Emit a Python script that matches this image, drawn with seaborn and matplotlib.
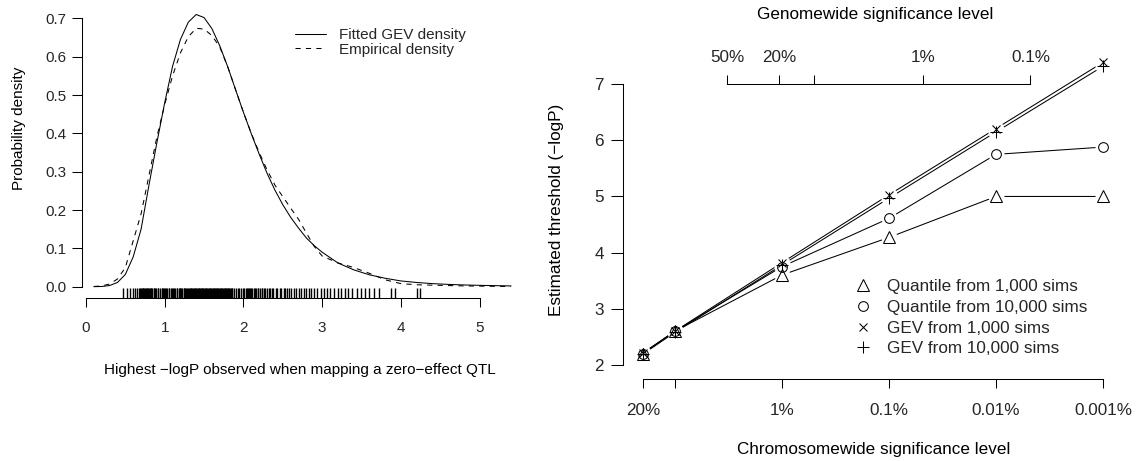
import matplotlib
matplotlib.use("Agg")
import matplotlib.pyplot as plt
from matplotlib.lines import Line2D
import numpy as np
import pandas as pd
import seaborn as sns

# ---------------- left panel data ----------------
dens_x = [0.1, 0.2, 0.3, 0.4, 0.5, 0.6, 0.7, 0.8, 0.9, 1.0, 1.1, 1.2, 1.3, 1.4,
          1.5, 1.6, 1.7, 1.8, 1.9, 2.0, 2.1, 2.2, 2.3, 2.4, 2.5, 2.6, 2.7, 2.8,
          2.9, 3.0, 3.2, 3.4, 3.6, 3.8, 4.0, 4.2, 4.4, 4.6, 4.8, 5.0, 5.2, 5.4]
gev_density = [0.0001, 0.0005, 0.003, 0.011, 0.032, 0.078, 0.150, 0.265, 0.375,
               0.480, 0.575, 0.645, 0.690, 0.710, 0.702, 0.673, 0.628, 0.574,
               0.514, 0.455, 0.399, 0.346, 0.296, 0.252, 0.214, 0.181, 0.153,
               0.127, 0.107, 0.090, 0.062, 0.044, 0.031, 0.022, 0.015, 0.011,
               0.008, 0.006, 0.0045, 0.0035, 0.0027, 0.002]
emp_density = [0.0005, 0.002, 0.007, 0.020, 0.050, 0.120, 0.190, 0.290, 0.390,
               0.475, 0.550, 0.610, 0.652, 0.674, 0.672, 0.655, 0.625, 0.574,
               0.514, 0.455, 0.400, 0.350, 0.305, 0.265, 0.235, 0.205, 0.176,
               0.140, 0.105, 0.080, 0.062, 0.050, 0.035, 0.018, 0.008, 0.005,
               0.004, 0.003, 0.002, 0.0015, 0.001, 0.0005]
rug_values = [0.47, 0.52, 0.56, 0.60, 0.62, 0.65, 0.67, 0.69, 0.70, 0.71, 0.72,
              0.73, 0.74, 0.75, 0.76, 0.77, 0.78, 0.79, 0.80, 0.81, 0.82, 0.83,
              0.84, 0.86, 0.87, 0.88, 0.89, 0.91, 0.92, 0.94, 0.96, 0.97, 0.98,
              0.99, 1.00, 1.02, 1.03, 1.05, 1.06, 1.08, 1.09, 1.10, 1.12, 1.13,
              1.15, 1.16, 1.18, 1.19, 1.20, 1.21, 1.22, 1.24, 1.25, 1.26, 1.27,
              1.28, 1.30, 1.31, 1.32, 1.33, 1.34, 1.35, 1.36, 1.37, 1.38, 1.39,
              1.40, 1.41, 1.42, 1.43, 1.44, 1.45, 1.46, 1.47, 1.48, 1.49, 1.50,
              1.51, 1.52, 1.53, 1.54, 1.55, 1.56, 1.57, 1.58, 1.59, 1.60, 1.61,
              1.62, 1.63, 1.64, 1.65, 1.66, 1.67, 1.68, 1.69, 1.70, 1.71, 1.72,
              1.73, 1.74, 1.75, 1.76, 1.77, 1.78, 1.79, 1.80, 1.81, 1.82, 1.83,
              1.84, 1.85, 1.86, 1.88, 1.90, 1.93, 1.95, 1.97, 2.00, 2.01, 2.03,
              2.04, 2.06, 2.07, 2.08, 2.10, 2.11, 2.13, 2.15, 2.16, 2.18, 2.19,
              2.21, 2.23, 2.24, 2.26, 2.28, 2.30, 2.32, 2.34, 2.36, 2.38, 2.41,
              2.43, 2.46, 2.48, 2.51, 2.53, 2.56, 2.58, 2.61, 2.64, 2.67, 2.70,
              2.73, 2.77, 2.80, 2.83, 2.86, 2.90, 2.94, 2.98, 3.02, 3.06, 3.10,
              3.15, 3.20, 3.24, 3.29, 3.33, 3.38, 3.44, 3.49, 3.55, 3.60, 3.66,
              3.72, 3.88, 3.93, 4.20, 4.24]
left_xticks = [0, 1, 2, 3, 4, 5]
left_yticks = [0.0, 0.1, 0.2, 0.3, 0.4, 0.5, 0.6, 0.7]
left_ytick_labels = ["0.0", "0.1", "0.2", "0.3", "0.4", "0.5", "0.6", "0.7"]
left_legend = ["Fitted GEV density", "Empirical density"]

# ---------------- right panel data ----------------
chrom_levels = [0.2, 0.1, 0.01, 0.001, 0.0001, 0.00001]
chrom_labels = ["20%", "", "1%", "0.1%", "0.01%", "0.001%"]
quant_1k = [2.20, 2.60, 3.60, 4.27, 5.00, 5.00]
quant_10k = [2.20, 2.60, 3.75, 4.61, 5.75, 5.88]
gev_1k = [2.21, 2.60, 3.82, 5.03, 6.21, 7.39]
gev_10k = [2.19, 2.58, 3.78, 4.97, 6.15, 7.32]
series_names = ["Quantile from 1,000 sims", "Quantile from 10,000 sims",
                "GEV from 1,000 sims", "GEV from 10,000 sims"]
genome_levels = [0.5, 0.2, 0.1, 0.01, 0.001]
genome_labels = ["50%", "20%", "", "1%", "0.1%"]
n_chrom = 21
right_yticks = [2, 3, 4, 5, 6, 7]

# ---------------- style ----------------
sns.set_theme(style="white")
plt.rcParams["font.family"] = ["Liberation Sans", "DejaVu Sans"]
plt.rcParams["font.size"] = 11
plt.rcParams["axes.unicode_minus"] = True

W, H = 1145, 461
fig = plt.figure(figsize=(W / 100, H / 100), dpi=100)
FS_L = 11
FS_R = 12.3


def axes_px(left, top, right, bottom):
    return fig.add_axes([left / W, 1 - bottom / H, (right - left) / W, (bottom - top) / H])


def ftext(x, y, s, size, **kw):
    fig.text(x / W, 1 - y / H, s, ha="center", va="center", fontsize=size,
             color="black", **kw)


LW = 0.75
TICKLEN = 6.5

# ---------------- left panel ----------------
ax1 = axes_px(81.7, 3.0, 518.9, 298.3)
ax1.set_xlim(-0.0546, 5.5)
ax1.set_ylim(-0.0303, 0.74)
sns.lineplot(x=dens_x, y=gev_density, ax=ax1, color="black", lw=LW, linestyle="-")
sns.lineplot(x=dens_x, y=emp_density, ax=ax1, color="black", lw=LW, linestyle=(0, (5, 5)))
sns.rugplot(x=rug_values, ax=ax1, height=10 / 295.3, color="black", lw=1.1,
            expand_margins=False)
for s in ["top", "right"]:
    ax1.spines[s].set_visible(False)
for s in ["left", "bottom"]:
    ax1.spines[s].set_color("black")
    ax1.spines[s].set_linewidth(LW)
ax1.spines["left"].set_bounds(0, 0.7)
ax1.spines["bottom"].set_bounds(0, 5)
ax1.set_xticks(left_xticks)
ax1.set_xticklabels([str(v) for v in left_xticks])
ax1.set_yticks(left_yticks)
ax1.set_yticklabels(left_ytick_labels)
ax1.tick_params(axis="x", direction="out", length=TICKLEN, width=LW, color="black",
                pad=9.5, labelsize=FS_L, bottom=True)
ax1.tick_params(axis="y", direction="out", length=7.2, width=LW, color="black",
                pad=3.6, labelsize=FS_L, left=True)
ax1.set_xlabel("")
ax1.set_ylabel("")
handles = [Line2D([], [], color="black", lw=LW, ls="-"),
           Line2D([], [], color="black", lw=LW, ls=(0, (5, 5)))]
ax1.legend(handles, left_legend, loc="upper left",
           bbox_to_anchor=(295 / W, 1 - 28 / H), bbox_transform=fig.transFigure,
           frameon=False, fontsize=FS_L, handlelength=2.0, handletextpad=0.9,
           labelspacing=0.05, borderpad=0, borderaxespad=0)
ftext(19, 128, "Probability density", FS_L, rotation=90)
ftext(300, 370, "Highest \u2212logP observed when mapping a zero\u2212effect QTL", FS_L)

# ---------------- right panel ----------------
y_bot, y_top = 1.747, 7.788
ax2 = axes_px(623, 40, 1124, 379)
ax2.set_xlim(0.514, 5.196)
ax2.set_ylim(y_bot, y_top)
tx = [-np.log10(p) for p in chrom_levels]
markers = [("^", 8), ("o", 7), ("x", 6.3), ("+", 8.7)]
all_series = [quant_1k, quant_10k, gev_1k, gev_10k]
for vals in all_series:
    sns.lineplot(x=tx, y=vals, ax=ax2, color="black", lw=LW, zorder=1)
for vals in all_series:
    sns.lineplot(x=tx, y=vals, ax=ax2, linestyle="", marker="o", markersize=11.5,
                 markerfacecolor="white", markeredgecolor="white", markeredgewidth=0,
                 zorder=2)
for vals, (m, ms) in zip(all_series, markers):
    sns.lineplot(x=tx, y=vals, ax=ax2, linestyle="", marker=m, markersize=ms,
                 markerfacecolor="none", markeredgecolor="black", markeredgewidth=LW,
                 color="black", zorder=3)
for s in ["top", "right"]:
    ax2.spines[s].set_visible(False)
for s in ["left", "bottom"]:
    ax2.spines[s].set_color("black")
    ax2.spines[s].set_linewidth(LW)
ax2.spines["left"].set_bounds(2, 7)
ax2.spines["bottom"].set_bounds(tx[0], tx[-1])
ax2.set_xticks(tx)
ax2.set_xticklabels(chrom_labels)
ax2.set_yticks(right_yticks)
ax2.set_yticklabels([str(v) for v in right_yticks])
ax2.tick_params(axis="x", direction="out", length=TICKLEN, width=LW, color="black",
                pad=10.5, labelsize=FS_R, bottom=True)
ax2.tick_params(axis="y", direction="out", length=9, width=LW, color="black",
                pad=4.7, labelsize=FS_R, left=True)
ax2.set_xlabel("")
ax2.set_ylabel("")

# top axis: genomewide levels placed at the equivalent chromosomewide level
g_pos = [-np.log10(1 - (1 - g) ** (1 / n_chrom)) for g in genome_levels]
sec = ax2.secondary_xaxis((7 - y_bot) / (y_top - y_bot))
sec.set_xticks(g_pos)
sec.set_xticklabels(genome_labels)
sec.spines["top"].set_bounds(g_pos[0], g_pos[-1])
sec.spines["top"].set_linewidth(LW)
sec.spines["top"].set_color("black")
sec.tick_params(axis="x", direction="out", length=TICKLEN, width=LW, color="black",
                pad=7, labelsize=FS_R)

leg_handles = [Line2D([], [], ls="", marker=m, markersize=ms, markerfacecolor="none",
                      markeredgecolor="black", markeredgewidth=LW, color="black")
               for m, ms in markers]
ax2.legend(leg_handles, series_names, loc="upper left",
           bbox_to_anchor=(854 / W, 1 - 279 / H), bbox_transform=fig.transFigure,
           frameon=False, fontsize=FS_R, handlelength=1.0, handletextpad=0.93,
           labelspacing=0.34, borderpad=0, borderaxespad=0)

ftext(557, 210, "Estimated threshold (\u2212logP)", FS_R, rotation=90)
ftext(874, 449, "Chromosomewide significance level", FS_R)
ftext(875, 15, "Genomewide significance level", FS_R)

fig.savefig("out.png", dpi=100)
